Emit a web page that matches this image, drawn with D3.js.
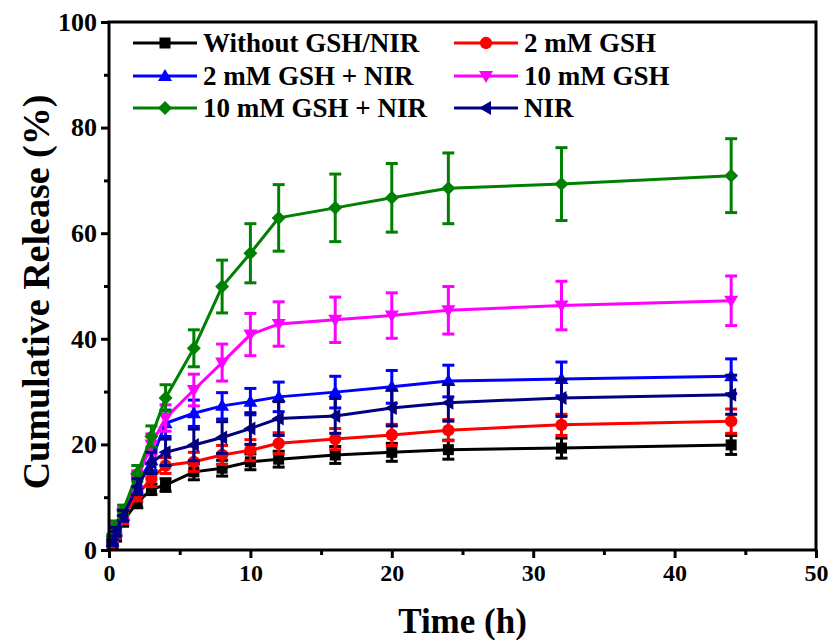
<!DOCTYPE html>
<html>
<head>
<meta charset="utf-8">
<script src="https://cdn.jsdelivr.net/npm/d3@7"></script>
<style>
  body { margin: 0; background: #fff; }
  svg text { font-family: 'Liberation Serif', 'Times New Roman', serif; font-weight: bold; }
</style>
</head>
<body>
<script>
const times = [0.25, 0.5, 1, 2, 3, 4, 6, 8, 10, 12, 16, 20, 24, 32, 44];

const seriesNames = ['Without GSH/NIR', '2 mM GSH', '2 mM GSH + NIR', '10 mM GSH', '10 mM GSH + NIR', 'NIR'];
const seriesColors = ['#000000', '#ff0000', '#0000ff', '#ff00ff', '#008000', '#000080'];
const seriesSymbols = ['square', 'circle', 'triUp', 'triDown', 'diamond', 'triLeft'];

const withoutGshNir = [1.0, 2.5, 5.5, 9.0, 11.5, 12.3, 14.8, 15.5, 16.7, 17.2, 18.0, 18.5, 19.0, 19.3, 19.9];
const gsh2 = [1.2, 3.0, 6.0, 10.5, 13.5, 16.0, 16.7, 18.0, 18.9, 20.2, 21.0, 21.8, 22.7, 23.7, 24.4];
const gsh2Nir = [1.5, 3.5, 6.5, 12.5, 17.0, 24.0, 25.9, 27.3, 28.1, 29.0, 29.9, 30.9, 32.0, 32.4, 32.9];
const gsh10 = [2.0, 4.0, 7.0, 13.5, 20.0, 25.0, 30.3, 35.5, 40.8, 42.8, 43.6, 44.4, 45.4, 46.3, 47.2];
const gsh10Nir = [2.5, 4.5, 7.5, 14.5, 21.5, 28.8, 38.2, 49.9, 56.2, 62.9, 64.8, 66.7, 68.5, 69.3, 70.9];
const nir = [1.5, 3.5, 6.5, 12.0, 16.5, 18.5, 19.9, 21.3, 23.0, 24.9, 25.4, 26.9, 27.9, 28.8, 29.4];

const errWithout = [0.5, 0.8, 1.0, 1.0, 1.0, 1.2, 1.5, 1.5, 1.5, 1.5, 1.6, 1.7, 1.8, 1.9, 1.8];
const errGsh2 = [0.5, 0.8, 1.0, 1.2, 1.5, 1.5, 1.8, 1.8, 2.0, 2.0, 2.0, 2.0, 2.0, 2.0, 2.3];
const errGsh2Nir = [0.5, 0.8, 1.0, 1.5, 2.0, 2.5, 2.5, 2.5, 2.5, 2.8, 3.0, 3.1, 3.0, 3.2, 3.3];
const errGsh10 = [0.5, 1.0, 1.0, 1.5, 2.0, 2.5, 3.0, 3.5, 4.0, 4.2, 4.3, 4.3, 4.5, 4.6, 4.7];
const errGsh10Nir = [0.5, 1.0, 1.0, 1.5, 2.0, 2.5, 3.5, 5.0, 5.6, 6.3, 6.4, 6.5, 6.7, 6.9, 7.0];
const errNir = [0.5, 0.8, 1.0, 1.5, 2.0, 2.5, 3.0, 3.0, 3.0, 3.2, 3.3, 3.4, 3.5, 3.5, 3.7];

const xTicks = [0, 10, 20, 30, 40, 50];
const yTicks = [0, 20, 40, 60, 80, 100];

const values = [withoutGshNir, gsh2, gsh2Nir, gsh10, gsh10Nir, nir];
const errors = [errWithout, errGsh2, errGsh2Nir, errGsh10, errGsh10Nir, errNir];

const w = 829, h = 640;
const m = { left: 109, right: 816, top: 22, bottom: 550 };

const svg = d3.select('body').append('svg')
  .attr('width', w)
  .attr('height', h);

const x = d3.scaleLinear().domain([0, 50]).range([m.left, m.right]);
const y = d3.scaleLinear().domain([0, 100]).range([m.bottom, m.top]);

// marker shapes
function markerPath(sym) {
  const s = 7;
  switch (sym) {
    case 'square': return `M-5.5,-5.5h11v11h-11z`;
    case 'circle': return d3.symbol(d3.symbolCircle, 120)();
    case 'triUp': return `M0,${-s}L${s},${s - 2}L${-s},${s - 2}Z`;
    case 'triDown': return `M0,${s}L${s},${-s + 2}L${-s},${-s + 2}Z`;
    case 'triLeft': return `M${-s},0L${s - 2},${-s}L${s - 2},${s}Z`;
    case 'diamond': return `M0,${-s}L${s},0L0,${s}L${-s},0Z`;
  }
}

const line = d3.line().x(d => x(d[0])).y(d => y(d[1]));

seriesNames.forEach((name, k) => {
  const pts = times.map((t, i) => [t, values[k][i], errors[k][i]]);
  const g = svg.append('g').attr('class', 'series');
  const c = seriesColors[k];

  g.append('path')
    .datum(pts)
    .attr('d', line)
    .attr('fill', 'none')
    .attr('stroke', c)
    .attr('stroke-width', 3);

  const eb = g.selectAll('g.err').data(pts).enter().append('g').attr('class', 'err')
    .attr('stroke', c).attr('stroke-width', 3);
  eb.append('line')
    .attr('x1', d => x(d[0])).attr('x2', d => x(d[0]))
    .attr('y1', d => y(d[1] - d[2])).attr('y2', d => y(d[1] + d[2]));
  eb.append('line')
    .attr('x1', d => x(d[0]) - 6).attr('x2', d => x(d[0]) + 6)
    .attr('y1', d => y(d[1] + d[2])).attr('y2', d => y(d[1] + d[2]));
  eb.append('line')
    .attr('x1', d => x(d[0]) - 6).attr('x2', d => x(d[0]) + 6)
    .attr('y1', d => y(d[1] - d[2])).attr('y2', d => y(d[1] - d[2]));

  g.selectAll('path.mk').data(pts).enter().append('path')
    .attr('class', 'mk')
    .attr('transform', d => `translate(${x(d[0])},${y(d[1])})`)
    .attr('d', markerPath(seriesSymbols[k]))
    .attr('fill', c);
});

// axes
const xAxis = d3.axisBottom(x).tickValues(xTicks).tickSize(8).tickPadding(6).tickFormat(d3.format('d'));
const xMinor = d3.axisBottom(x).tickValues(d3.range(5, 50, 10)).tickSize(5).tickFormat('');
const yAxis = d3.axisLeft(y).tickValues(yTicks).tickSize(8).tickPadding(4).tickFormat(d3.format('d'));
const yMinor = d3.axisLeft(y).tickValues(d3.range(10, 100, 20)).tickSize(5).tickFormat('');

function styleAxis(size) {
  return sel => {
    sel.select('.domain').remove();
    sel.selectAll('.tick line').attr('stroke', '#000').attr('stroke-width', 3);
    sel.selectAll('.tick text').attr('fill', '#000').style('font-size', size);
  };
}

svg.append('g').attr('transform', `translate(0,${m.bottom})`).call(xAxis).call(styleAxis('24px'));
svg.append('g').attr('transform', `translate(0,${m.bottom})`).call(xMinor).call(styleAxis('24px'));
svg.append('g').attr('transform', `translate(${m.left},0)`).call(yAxis).call(styleAxis('26px'));
svg.append('g').attr('transform', `translate(${m.left},0)`).call(yMinor).call(styleAxis('26px'));

svg.append('rect')
  .attr('x', m.left).attr('y', m.top)
  .attr('width', m.right - m.left).attr('height', m.bottom - m.top)
  .attr('fill', 'none').attr('stroke', '#000').attr('stroke-width', 3);

// axis titles
svg.append('text')
  .attr('x', (m.left + m.right) / 2).attr('y', 633)
  .attr('text-anchor', 'middle')
  .style('font-size', '35px')
  .text('Time (h)');

svg.append('text')
  .attr('transform', `translate(49,292) rotate(-90)`)
  .attr('text-anchor', 'middle')
  .style('font-size', '38px')
  .text('Cumulative Release (%)');

// legend
const legX = [133, 454];
const legY = [43, 76, 108];
seriesNames.forEach((name, k) => {
  const lx = legX[k % 2], ly = legY[Math.floor(k / 2)];
  const g = svg.append('g').attr('transform', `translate(${lx},${ly})`);
  g.append('line').attr('x1', 0).attr('x2', 64).attr('y1', 0).attr('y2', 0)
    .attr('stroke', seriesColors[k]).attr('stroke-width', 3);
  g.append('path').attr('transform', 'translate(32,0)')
    .attr('d', markerPath(seriesSymbols[k])).attr('fill', seriesColors[k]);
  g.append('text').attr('x', 70).attr('y', 9)
    .style('font-size', '27px')
    .text(name);
});
</script>
</body>
</html>
